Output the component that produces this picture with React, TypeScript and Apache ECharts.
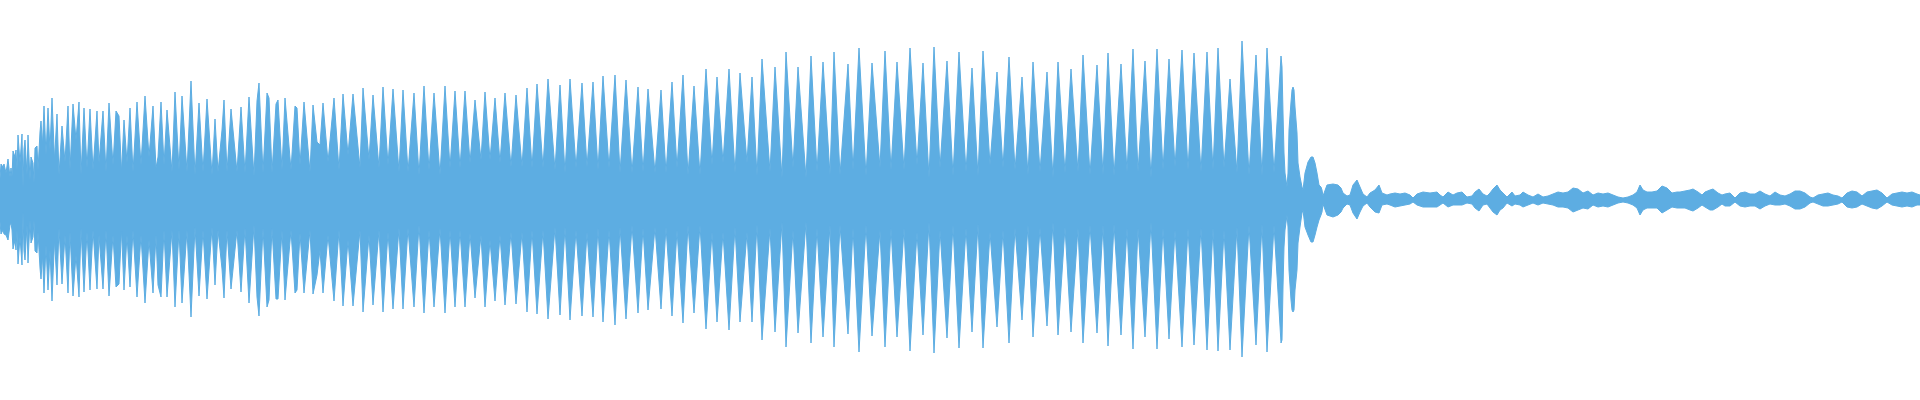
import React, { useEffect, useRef } from "react";
import * as echarts from "echarts";

// Each entry: [sample column, upper peak, lower peak magnitude] (amplitude units, full scale = 200)
type Pt = [number, number, number];

const onset: Pt[] = [
  [0, 22, 22], [1, 36, 34], [3, 33, 30], [4, 36, 34], [6, 27, 35], [8, 41, 40], [10, 23, 25], [11, 32, 23],
  [12, 23, 30], [13, 49, 49], [15, 43, 40], [16, 50, 50], [17, 30, 30], [18, 65, 64], [20, 37, 37], [22, 66, 65],
  [23, 12, 12], [24, 51, 51], [25, 60, 60], [27, 25, 25], [28, 65, 63], [30, 20, 20], [31, 43, 43], [33, 37, 37],
  [34, 17, 20], [35, 52, 51], [37, 54, 53], [38, 30, 32], [40, 68, 68], [41, 79, 79], [42.5, 55, 55], [44, 94, 93],
  [46, 45, 45], [48, 92, 90], [50, 50, 50], [52, 102, 101], [54.5, 40, 40], [57, 86, 85], [59, 25, 28], [62, 74, 84],
  [65, 38, 35], [68, 94, 93], [70, 30, 32], [73, 96, 96], [76, 60, 55], [79, 98, 97], [81, 25, 28], [84, 92, 92],
  [87, 32, 32], [90, 91, 90], [93, 30, 30], [97, 89, 89], [99, 37, 35], [103, 89, 89], [106, 28, 30], [109, 97, 96],
  [113, 35, 35], [116, 89, 87], [119, 84, 84], [121.5, 28, 30], [124, 80, 90], [127, 37, 35], [130, 92, 87],
  [133, 28, 30], [137, 98, 97], [141, 35, 35], [145, 104, 103], [149, 43, 40], [153, 94, 93], [156, 32, 35],
  [158, 43, 85],
];

const sustainA: Pt[] = [
  [161, 98, 97], [164, 35, 30], [167, 90, 97], [172, 28, 30], [175, 108, 107], [179, 30, 30], [182, 104, 103],
  [187, 28, 30], [191, 119, 117], [195, 25, 27], [199, 97, 96], [203, 28, 30], [207, 101, 99], [212, 25, 27],
  [215, 81, 85], [218, 28, 30], [222, 70, 69], [224, 100, 98], [227, 28, 30], [231, 91, 89], [237, 28, 30],
  [241, 93, 92], [245, 27, 28], [249, 103, 103], [254, 24, 25], [257, 99, 97], [259, 117, 116], [263, 27, 28],
  [267, 107, 107], [269, 102, 100], [272, 27, 28], [276, 96, 99], [278, 100, 99], [282, 30, 30], [285, 102, 100],
  [291, 30, 30], [295, 94, 93], [297, 92, 90], [300, 35, 33], [304, 98, 93], [310, 28, 30], [313, 95, 94],
  [317, 58, 75], [320, 55, 50], [323, 97, 93], [328, 38, 35], [334, 102, 101], [339, 30, 30], [343, 106, 106],
  [348, 45, 40], [353, 106, 106], [360, 32, 30], [363, 112, 112], [369, 40, 35], [373, 105, 105], [379, 32, 30],
  [383, 113, 112], [388, 35, 32], [393, 111, 109], [399, 28, 28], [403, 110, 109], [408, 28, 28], [414, 107, 107],
  [419, 25, 25], [424, 114, 113], [429, 30, 30], [434, 107, 107], [440, 25, 28], [445, 114, 113], [450, 32, 30],
  [455, 109, 107], [460, 32, 30], [465, 109, 107], [470, 37, 33], [475, 100, 98], [481, 40, 35],
];

const sustainB: Pt[] = [
  [485, 108, 107], [490, 40, 40], [495, 102, 101], [500, 37, 35], [505, 107, 105], [511, 33, 32], [516, 105, 104],
  [522, 33, 32], [527, 112, 112], [532, 32, 30], [537, 116, 114], [543, 32, 30], [548, 121, 119], [555, 30, 27],
  [560, 115, 115], [565, 27, 27], [570, 121, 120], [576, 32, 30], [582, 117, 116], [587, 33, 32], [593, 118, 117],
  [598, 30, 28], [603, 124, 122], [609, 32, 30], [615, 125, 125], [620, 27, 27], [626, 120, 119], [632, 27, 25],
  [638, 113, 113], [643, 28, 28], [648, 111, 110], [655, 27, 27], [661, 110, 109], [666, 27, 27], [672, 118, 116],
  [677, 32, 30], [683, 125, 123], [688, 25, 25], [694, 114, 113], [700, 25, 25], [706, 131, 129], [712, 35, 32],
  [717, 123, 122], [723, 37, 32], [729, 131, 130], [735, 27, 27], [740, 127, 122], [747, 37, 32], [752, 123, 122],
  [757, 24, 24], [762, 141, 140], [770, 28, 28], [775, 133, 132], [782, 22, 22], [786, 148, 147], [793, 32, 30],
  [798, 133, 133],
];

const sustainC: Pt[] = [
  [806, 22, 22], [811, 144, 143], [817, 28, 28], [823, 138, 137], [830, 25, 25], [834, 148, 147], [840, 25, 25],
  [848, 136, 134], [853, 30, 28], [859, 152, 152], [866, 24, 25], [872, 137, 136], [880, 32, 30], [885, 149, 147],
  [891, 30, 28], [897, 138, 137], [904, 30, 28], [910, 152, 151], [917, 35, 32], [923, 137, 135], [929, 22, 22],
  [934, 153, 153], [940, 32, 30], [947, 139, 138], [953, 24, 25], [959, 148, 148], [966, 28, 28], [972, 132, 132],
  [978, 24, 24], [983, 149, 148], [990, 35, 32], [997, 128, 127], [1003, 32, 30], [1009, 143, 143], [1015, 30, 28],
  [1022, 123, 120], [1028, 25, 25], [1033, 138, 137], [1040, 28, 28], [1047, 128, 126], [1053, 22, 22],
  [1058, 138, 135], [1065, 27, 27], [1071, 131, 132], [1078, 28, 28], [1083, 145, 143], [1090, 25, 25],
  [1097, 135, 133], [1103, 25, 25], [1108, 147, 146], [1114, 24, 24],
];

const sustainD: Pt[] = [
  [1121, 136, 135], [1127, 28, 28], [1133, 151, 149], [1138, 28, 28], [1145, 139, 137], [1151, 22, 22],
  [1157, 151, 149], [1163, 30, 28], [1169, 141, 139], [1175, 33, 30], [1182, 150, 147], [1188, 30, 28],
  [1194, 147, 145], [1201, 28, 28], [1207, 148, 150], [1213, 30, 28], [1218, 152, 151], [1224, 32, 30],
  [1230, 121, 150], [1237, 27, 27], [1242, 159, 157], [1249, 25, 25], [1256, 145, 145], [1262, 24, 24],
  [1267, 152, 152], [1274, 27, 25], [1281, 144, 143], [1282, 133, 140], [1283, 87, 87], [1284, 47, 47],
  [1285, 27, 30], [1287, 13, 15], [1288, 27, 27], [1289, 70, 70], [1291, 98, 100], [1292, 110, 110],
  [1293, 113, 112], [1294, 110, 110], [1295, 93, 90], [1297, 67, 70], [1298, 37, 43], [1300, 23, 27],
  [1302, 13, 13], [1303, 10, 10], [1305, 27, 27], [1308, 38, 35], [1311, 43, 42], [1313, 43, 42], [1315, 37, 35],
  [1317, 27, 27], [1319, 15, 20], [1321, 13, 15], [1322, 10, 12],
];

const tail: Pt[] = [
  [1323, 4, 4], [1327, 15, 15], [1333, 16, 17], [1338, 15, 15], [1341, 12, 12], [1343, 7, 8], [1347, 4, 4],
  [1350, 5, 5], [1353, 15, 13], [1357, 20, 19], [1360, 13, 12], [1363, 6, 6], [1367, 3, 3], [1370, 7, 7],
  [1375, 10, 12], [1379, 15, 13], [1382, 7, 5], [1387, 5, 4], [1390, 6, 5], [1395, 7, 7], [1400, 6, 6],
  [1405, 7, 5], [1410, 5, 4], [1413, 2, 2], [1417, 6, 5], [1423, 8, 7], [1430, 7, 7], [1437, 8, 7],
  [1440, 5, 5], [1443, 3, 3], [1448, 8, 7], [1453, 5, 5], [1457, 7, 5], [1462, 8, 5], [1467, 3, 3], [1472, 4, 4],
  [1475, 8, 8], [1479, 11, 11], [1483, 6, 5], [1487, 4, 4], [1490, 7, 8], [1493, 11, 12], [1497, 15, 15],
  [1500, 10, 10], [1503, 7, 8], [1507, 3, 3], [1512, 8, 6], [1515, 4, 4], [1520, 5, 5], [1523, 8, 7],
  [1528, 5, 5], [1533, 3, 3], [1538, 6, 5], [1543, 3, 3], [1548, 4, 4], [1553, 6, 5], [1558, 8, 7],
  [1563, 7, 7], [1568, 8, 8], [1573, 12, 12], [1578, 11, 10], [1583, 7, 8], [1588, 9, 9], [1593, 5, 5],
  [1598, 7, 7], [1603, 6, 6], [1608, 7, 7], [1613, 5, 5], [1618, 3, 3], [1623, 2, 2], [1628, 3, 3], [1633, 5, 5],
  [1637, 8, 8], [1640, 15, 15], [1643, 10, 10], [1647, 8, 8], [1652, 8, 8], [1657, 9, 8], [1662, 14, 13],
  [1667, 12, 10], [1672, 7, 7], [1677, 8, 8], [1680, 8, 8], [1685, 9, 8], [1690, 10, 10], [1693, 11, 11],
  [1698, 8, 8], [1702, 5, 5], [1705, 8, 7], [1710, 10, 10], [1713, 11, 10], [1718, 7, 7], [1722, 5, 4],
  [1725, 6, 6], [1730, 7, 6], [1735, 2, 2], [1740, 7, 6], [1745, 8, 7], [1750, 6, 6], [1755, 6, 6], [1760, 9, 9],
  [1765, 6, 6], [1770, 4, 4], [1775, 8, 5], [1780, 5, 5], [1785, 4, 4], [1790, 6, 6], [1795, 9, 9], [1800, 9, 9],
  [1805, 7, 7], [1810, 3, 3], [1813, 2, 2], [1818, 5, 4], [1823, 6, 6], [1828, 7, 6], [1833, 5, 5], [1838, 4, 4],
  [1842, 2, 2], [1847, 7, 7], [1852, 9, 8], [1857, 8, 7], [1862, 4, 4], [1867, 8, 6], [1872, 9, 8], [1877, 10, 9],
  [1882, 7, 6], [1887, 2, 2], [1892, 6, 5], [1897, 7, 6], [1902, 8, 7], [1907, 7, 6], [1912, 8, 7], [1917, 6, 5],
  [1920, 5, 5],
];

const X_MAX = 1920;
const AMP_MAX = 200;
const WAVE_COLOR = "#5dade2";

export default function App() {
  const ref = useRef<HTMLDivElement>(null);

  useEffect(() => {
    document.body.style.margin = "0";
    const chart = echarts.init(ref.current as HTMLDivElement, null, { renderer: "svg" });
    const all = [...onset, ...sustainA, ...sustainB, ...sustainC, ...sustainD, ...tail];
    const upper = all.map((p) => [p[0], p[1]]);
    const lower = all.map((p) => [p[0], -p[2]]);
    const common = {
      type: "line",
      showSymbol: false,
      symbol: "none",
      silent: true,
      lineStyle: { color: WAVE_COLOR, width: 1 },
      areaStyle: { color: WAVE_COLOR, opacity: 1 },
    };
    chart.setOption({
      animation: false,
      grid: { left: 0, right: 0, top: 0, bottom: 0 },
      xAxis: { type: "value", min: 0, max: X_MAX, show: false },
      yAxis: { type: "value", min: -AMP_MAX, max: AMP_MAX, show: false },
      series: [
        { ...common, name: "upper", data: upper },
        { ...common, name: "lower", data: lower },
      ],
    });
    return () => chart.dispose();
  }, []);

  return (
    <div
      ref={ref}
      style={{ position: "absolute", left: 0, top: 0, width: 1920, height: 400 }}
    />
  );
}
